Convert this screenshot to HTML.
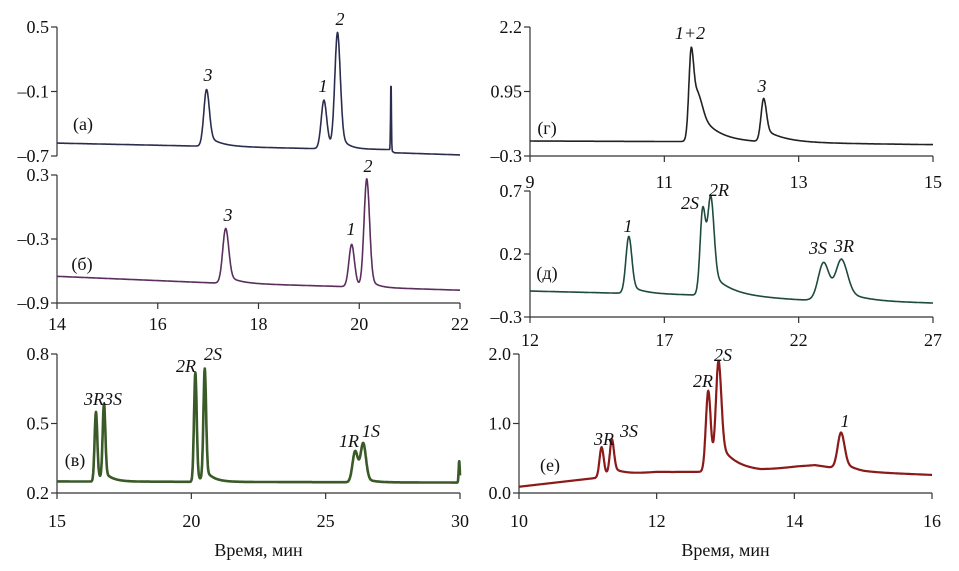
<!DOCTYPE html>
<html><head><meta charset="utf-8"><style>
html,body{margin:0;padding:0;background:#fff}
svg{display:block;font-family:"Liberation Serif",serif}
.tk{font-size:18px;fill:#111}
.pl{font-size:18px;font-style:italic;fill:#111}
.lb{font-size:18px;fill:#111}
</style></head><body>
<svg id="fig" width="959" height="571" viewBox="0 0 959 571"></svg>
<script>
// ---- data ----
// panel a
const aBaseT=[14,17,19,20.6,20.7,22], aBaseV=[-0.58,-0.61,-0.63,-0.64,-0.67,-0.69];
const aPeakT=[16.97,19.3,19.57,20.63], aPeakTop=[-0.08,-0.18,0.44,0.0], aPeakW=[0.055,0.055,0.055,0.008], aPeakTail=[0.2,0.15,0.15,0], aPeakTau=[0.25,0.15,0.15,0.01];
// panel b
const bBaseT=[14,17,20,22], bBaseV=[-0.65,-0.71,-0.75,-0.78];
const bPeakT=[17.35,19.85,20.15], bPeakTop=[-0.2,-0.35,0.26], bPeakW=[0.06,0.055,0.055], bPeakTail=[0.15,0.1,0.1], bPeakTau=[0.25,0.15,0.15];
// panel g
const gBaseT=[9,11.3,15], gBaseV=[-0.01,-0.02,-0.08];
const gPeakT=[11.4,11.5,12.48], gPeakTop=[1.6,0.55,0.8], gPeakW=[0.035,0.07,0.04], gPeakTail=[0.35,0.4,0.3], gPeakTau=[0.25,0.3,0.3];
// panel d
const dBaseT=[12,18,22,27], dBaseV=[-0.094,-0.125,-0.165,-0.19];
const dPeakT=[15.68,18.43,18.73,22.93,23.6], dPeakTop=[0.34,0.54,0.62,0.13,0.15], dPeakW=[0.11,0.1,0.12,0.2,0.22], dPeakTail=[0.15,0.1,0.2,0.1,0.25], dPeakTau=[0.5,0.5,0.8,0.5,0.8];
// panel v
const vBaseT=[15,30], vBaseV=[0.25,0.245];
const vPeakT=[16.45,16.75,20.15,20.5,26.1,26.4,29.97], vPeakTop=[0.55,0.575,0.72,0.73,0.38,0.41,0.34], vPeakW=[0.05,0.05,0.05,0.05,0.1,0.1,0.02], vPeakTail=[0.1,0.1,0.05,0.1,0.1,0.1,0], vPeakTau=[0.3,0.3,0.3,0.3,0.3,0.3,0.01];
// panel e
const eBaseT=[10,11.15,12,13.5,14.05,14.3,15,16], eBaseV=[0.09,0.22,0.3,0.31,0.38,0.4,0.3,0.26];
const ePeakT=[11.2,11.35,12.75,12.9,14.68], ePeakTop=[0.66,0.75,1.47,1.86,0.87], ePeakW=[0.03,0.03,0.035,0.04,0.05], ePeakTail=[0.15,0.2,0.1,0.25,0.2], ePeakTau=[0.15,0.2,0.15,0.25,0.2];

const NS="http://www.w3.org/2000/svg";
const svg=document.getElementById('fig');
function mk(tag,attrs,parent){const e=document.createElementNS(NS,tag);for(const k in attrs)e.setAttribute(k,attrs[k]);(parent||svg).appendChild(e);return e;}
function interp(T,V,t){if(t<=T[0])return V[0];for(let i=1;i<T.length;i++){if(t<=T[i]){const f=(t-T[i-1])/(T[i]-T[i-1]);return V[i-1]+f*(V[i]-V[i-1]);}}return V[V.length-1];}
function shape(t,t0,w,f,tau){const d=t-t0;const g=Math.exp(-0.5*d*d/(w*w));if(d<0)return g;return (1-f)*g+f*Math.exp(-d/tau);}

function panel(o){
  const g=mk('g',{});
  
  
  const X=v=>o.x0+(v-o.xmin)/(o.xmax-o.xmin)*(o.x1-o.x0);
  const Y=v=>o.y0-(v-o.ymin)/(o.ymax-o.ymin)*(o.y0-o.y1);
  const ya=mk('line',{x1:o.x0,y1:o.y1,x2:o.x0,y2:o.y0,stroke:'#333','stroke-width':1.2},g);
  
  
  o.yticks.forEach((v,i)=>{
    mk('line',{x1:o.x0-6,y1:Y(v),x2:o.x0,y2:Y(v),stroke:'#333','stroke-width':1.2},g);
    const t=mk('text',{x:o.x0-8,y:Y(v)+6,'text-anchor':'end',class:'tk'},g);t.textContent=o.ylabels[i];
    
    
  });
  if(o.xaxis){
    const xa=mk('line',{x1:o.x0,y1:o.y0,x2:o.x1,y2:o.y0,stroke:'#333','stroke-width':1.2},g);
    
    
    o.xticks.forEach(v=>{
      mk('line',{x1:X(v),y1:o.y0,x2:X(v),y2:o.y0+6,stroke:'#333','stroke-width':1.2},g);
      const t=mk('text',{x:X(v),y:o.xly,'text-anchor':'middle',class:'tk'},g);t.textContent=v;
      
      
    });
  }
  let d='';const N=1200;
  for(let i=0;i<=N;i++){
    const t=o.xmin+(o.xmax-o.xmin)*i/N;
    let v=interp(o.bt,o.bv,t);
    for(let k=0;k<o.pt.length;k++){const amp=o.ptop[k]-interp(o.bt,o.bv,o.pt[k]);v+=amp*shape(t,o.pt[k],o.pw[k],o.ptl[k],o.ptau[k]);}
    d+=(i?'L':'M')+X(t).toFixed(1)+' '+Y(v).toFixed(1);
  }
  const p=mk('path',{d:d,fill:'none',stroke:o.color,'stroke-width':o.sw||1.6,'stroke-linejoin':'round'},g);
  
  
  o.labels.forEach(l=>{
    const t=mk('text',{x:l[1],y:l[2]+6,'text-anchor':'middle',class:'pl'},g);t.textContent=l[0];
    
    
  });
  const pl=mk('text',{x:o.pl[0],y:o.pl[1]+6,'text-anchor':'middle',class:'lb'},g);pl.textContent=o.pl[2];
  
  
  if(o.xtitle){const t=mk('text',{x:(o.x0+o.x1)/2,y:556,'text-anchor':'middle',class:'lb'},g);t.textContent='Время, мин';
    
    }
}
panel({name:'panel-a',x0:57,x1:460,y0:156,y1:27,xmin:14,xmax:22,ymin:-0.7,ymax:0.5,yticks:[0.5,-0.1,-0.7],ylabels:['0.5','–0.1','–0.7'],xaxis:false,
  bt:aBaseT,bv:aBaseV,pt:aPeakT,ptop:aPeakTop,pw:aPeakW,ptl:aPeakTail,ptau:aPeakTau,color:'#2b2d4f',
  labels:[['3',208,75],['1',323,86],['2',340,19]],pl:[83,124,'(а)']});
panel({name:'panel-b',x0:57,x1:460,y0:303,y1:175,xmin:14,xmax:22,ymin:-0.9,ymax:0.3,yticks:[0.3,-0.3,-0.9],ylabels:['0.3','–0.3','–0.9'],xaxis:true,xticks:[14,16,18,20,22],xly:330,
  bt:bBaseT,bv:bBaseV,pt:bPeakT,ptop:bPeakTop,pw:bPeakW,ptl:bPeakTail,ptau:bPeakTau,color:'#5a2f5e',
  labels:[['3',228,215],['1',351,229],['2',368,166]],pl:[82,264,'(б)']});
panel({name:'panel-g',x0:530,x1:933,y0:156,y1:27,xmin:9,xmax:15,ymin:-0.3,ymax:2.2,yticks:[2.2,0.95,-0.3],ylabels:['2.2','0.95','–0.3'],xaxis:true,xticks:[9,11,13,15],xly:188,
  bt:gBaseT,bv:gBaseV,pt:gPeakT,ptop:gPeakTop,pw:gPeakW,ptl:gPeakTail,ptau:gPeakTau,color:'#222',
  labels:[['1+2',690,33],['3',762,86]],pl:[547,128,'(г)']});
panel({name:'panel-d',x0:530,x1:933,y0:317,y1:191,xmin:12,xmax:27,ymin:-0.3,ymax:0.7,yticks:[0.7,0.2,-0.3],ylabels:['0.7','0.2','–0.3'],xaxis:true,xticks:[12,17,22,27],xly:346,
  bt:dBaseT,bv:dBaseV,pt:dPeakT,ptop:dPeakTop,pw:dPeakW,ptl:dPeakTail,ptau:dPeakTau,color:'#1f4a40',
  labels:[['1',628,226],['2S',690,203],['2R',719,190],['3S',818,248],['3R',844,246]],pl:[547,273,'(д)']});
panel({name:'panel-v',x0:57,x1:460,y0:493,y1:354,xmin:15,xmax:30,ymin:0.2,ymax:0.8,yticks:[0.8,0.5,0.2],ylabels:['0.8','0.5','0.2'],xaxis:true,xticks:[15,20,25,30],xly:527,sw:2.6,
  bt:vBaseT,bv:vBaseV,pt:vPeakT,ptop:vPeakTop,pw:vPeakW,ptl:vPeakTail,ptau:vPeakTau,color:'#3a5a28',
  labels:[['3R3S',103,399],['2R',186,366],['2S',213,354],['1R',349,441],['1S',371,431]],pl:[75,460,'(в)'],xtitle:true});
panel({name:'panel-e',x0:519,x1:932,y0:493,y1:354,xmin:10,xmax:16,ymin:0,ymax:2.0,yticks:[2.0,1.0,0.0],ylabels:['2.0','1.0','0.0'],xaxis:true,xticks:[10,12,14,16],xly:527,sw:2.2,
  bt:eBaseT,bv:eBaseV,pt:ePeakT,ptop:ePeakTop,pw:ePeakW,ptl:ePeakTail,ptau:ePeakTau,color:'#8b1a1a',
  labels:[['3R',604,439],['3S',629,431],['2R',703,381],['2S',723,355],['1',845,421]],pl:[550,465,'(е)'],xtitle:true});
</script>
</body></html>
